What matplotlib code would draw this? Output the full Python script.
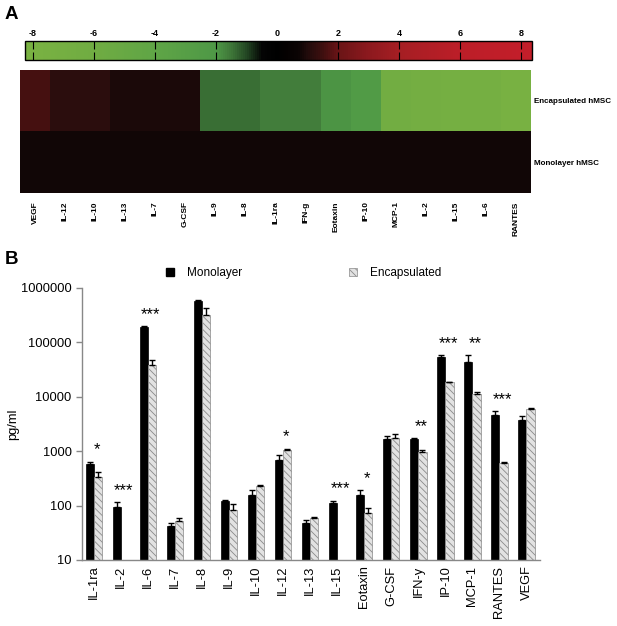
import numpy as np
import matplotlib
matplotlib.use('Agg')
import matplotlib.pyplot as plt
from matplotlib.colors import LinearSegmentedColormap, Normalize
from matplotlib.cm import ScalarMappable
from matplotlib.patches import Patch
from matplotlib.ticker import FixedLocator, NullLocator, FuncFormatter

plt.rcParams['font.family'] = ['Liberation Sans', 'DejaVu Sans']
plt.rcParams['hatch.linewidth'] = 0.6
plt.rcParams['axes.unicode_minus'] = False

# ---- panel A data: log2 fold change heat map ----
heat_labels = ['VEGF', 'IL-12', 'IL-10', 'IL-13', 'IL-7', 'G-CSF', 'IL-9', 'IL-8',
               'IL-1ra', 'IFN-g', 'Eotaxin', 'IP-10', 'MCP-1', 'IL-2', 'IL-15',
               'IL-6', 'RANTES']
heat_rows = ['Encapsulated hMSC', 'Monolayer hMSC']
heat_encap = [1.6, 1.2, 1.2, 0.95, 0.95, 0.95, -1.4, -1.4, -1.6, -1.6, -1.9,
              -2.4, -6.5, -6.8, -7.0, -7.2, -7.8]
heat_mono = [0.8] * 17
cbar_ticks = [-8, -6, -4, -2, 0, 2, 4, 6, 8]

# ---- panel B data: pg/ml ----
cytokines = ['IL-1ra', 'IL-2', 'IL-6', 'IL-7', 'IL-8', 'IL-9', 'IL-10', 'IL-12',
             'IL-13', 'IL-15', 'Eotaxin', 'G-CSF', 'IFN-y', 'IP-10', 'MCP-1',
             'RANTES', 'VEGF']
mono = [575, 93, 195000, 43, 575000, 121, 158, 690, 47, 110, 158, 1660, 1660,
        53700, 43000, 4700, 3700]
mono_sem = [70, 24, 6000, 4, 15000, 5, 32, 160, 8, 13, 32, 210, 80, 4300,
            14700, 800, 700]
encap = [336, np.nan, 38000, 52, 323000, 82, 226, 1070, 58, np.nan, 74, 1740,
         980, 18500, 11200, 600, 6000]
encap_sem = [74, np.nan, 9500, 6, 113000, 27, 9, 50, 3, np.nan, 17, 340, 60,
             400, 1300, 20, 200]
stars = ['*', '***', '***', '', '', '', '', '*', '', '***', '*', '', '**',
         '***', '**', '***', '']

# colormap
vmin, vmax = -8.25, 8.35
anchors = [(-8.25, (122, 178, 66)), (-6, (112, 172, 66)), (-4, (95, 165, 70)),
           (-2, (78, 152, 70)), (-1.5, (62, 118, 56)), (-1.0, (35, 70, 35)),
           (-0.5, (4, 4, 4)), (0, (0, 0, 0)), (0.7, (10, 3, 3)),
           (1.0, (32, 11, 11)), (1.5, (62, 15, 15)), (2, (105, 20, 22)),
           (3, (140, 25, 30)), (4, (165, 30, 35)), (6, (188, 30, 40)),
           (8.35, (195, 30, 42))]
cmap = LinearSegmentedColormap.from_list(
    'gr', [((v - vmin) / (vmax - vmin), tuple(c / 255 for c in col)) for v, col in anchors])
norm = Normalize(vmin, vmax)

fig = plt.figure(figsize=(6.17, 6.26), dpi=100)

# colour bar
cax = fig.add_axes([25 / 617, 1 - 60 / 626, 507 / 617, 19 / 626])
cb = fig.colorbar(ScalarMappable(norm=norm, cmap=cmap), cax=cax, orientation='horizontal')
cb.set_ticks(cbar_ticks)
cb.outline.set_linewidth(1)
cax.xaxis.set_ticks_position('both')
cax.xaxis.set_label_position('top')
cax.tick_params(axis='x', direction='in', length=6, width=0.8, labeltop=True,
                labelbottom=False, labelsize=6.5, pad=2)
for t in cax.get_xticklabels():
    t.set_fontweight('bold')

# heat map
hax = fig.add_axes([20 / 617, 1 - 193 / 626, 511 / 617, 123 / 626])
hax.pcolormesh(np.array([heat_encap, heat_mono]), cmap=cmap, norm=norm)
hax.set_ylim(2, 0)
hax.set_xticks(np.arange(len(heat_labels)) + 0.5)
hax.set_xticklabels(heat_labels, rotation=90, fontsize=6, fontweight='bold', va='top')
hax.set_yticks([0.5, 1.5])
hax.set_yticklabels(heat_rows, fontsize=5.8, fontweight='bold')
hax.yaxis.tick_right()
hax.tick_params(length=0, pad=2)
hax.tick_params(axis='x', pad=6)
for s in hax.spines.values():
    s.set_visible(False)

# bar chart
ax = fig.add_axes([82 / 617, 1 - 560 / 626, 458 / 617, 272 / 626])
x = np.arange(len(cytokines))
w = 0.3
ax.bar(x - w / 2, mono, w, color='black', edgecolor='black', linewidth=0.5)
ax.bar(x + w / 2, encap, w, color='#e2e2e2', edgecolor='#8a8a8a', linewidth=0.5,
       hatch='\\\\\\\\\\')
ax.errorbar(x - w / 2, mono, yerr=[np.zeros(len(x)), mono_sem], fmt='none',
            ecolor='black', elinewidth=1, capsize=2.5, capthick=1)
ax.errorbar(x + w / 2, encap, yerr=[np.zeros(len(x)), encap_sem], fmt='none',
            ecolor='black', elinewidth=1, capsize=2.5, capthick=1)

tops = np.nanmax(np.vstack([np.array(mono) + np.array(mono_sem),
                            np.array(encap) + np.array(encap_sem)]), axis=0)
for xi, top, s in zip(x, tops, stars):
    if s:
        ax.annotate(s, (xi + 0.1, top), xytext=(0, 3), textcoords='offset points',
                    ha='center', va='bottom', fontsize=12)

ax.set_yscale('log')
ax.set_ylim(10, 1e6)
ax.set_xlim(-0.45, 16.5)
ax.yaxis.set_major_locator(FixedLocator([10, 100, 1000, 10000, 100000, 1000000]))
ax.yaxis.set_minor_locator(NullLocator())
ax.yaxis.set_major_formatter(FuncFormatter(lambda v, p: f'{int(round(v))}'))
ax.set_xticks(x)
ax.set_xticklabels(cytokines, rotation=90, fontsize=9.3)
ax.tick_params(axis='y', labelsize=9.3, length=4, color='#888888', width=1)
ax.tick_params(axis='x', length=0, pad=4)
ax.set_ylabel('pg/ml', fontsize=9.3)
ax.yaxis.set_label_coords(-0.138, 0.5)
for s in ['top', 'right']:
    ax.spines[s].set_visible(False)
for s in ['left', 'bottom']:
    ax.spines[s].set_color('#888888')
    ax.spines[s].set_linewidth(1)

handles = [Patch(facecolor='black', edgecolor='black'),
           Patch(facecolor='#e2e2e2', edgecolor='#8a8a8a', hatch='\\\\\\\\\\', linewidth=0.5)]
fig.legend(handles, ['Monolayer', 'Encapsulated'], loc='center left',
           bbox_to_anchor=(166 / 617, 1 - 273 / 626), ncol=2, frameon=False,
           fontsize=8.5, handlelength=0.7, handleheight=0.7, handletextpad=1.1,
           columnspacing=9.0, borderpad=0, borderaxespad=0)

fig.text(5 / 617, 1 - 6 / 626, 'A', fontsize=13.5, fontweight='bold', va='top')
fig.text(5 / 617, 1 - 251 / 626, 'B', fontsize=13.5, fontweight='bold', va='top')

fig.savefig('out.png', dpi=100)
